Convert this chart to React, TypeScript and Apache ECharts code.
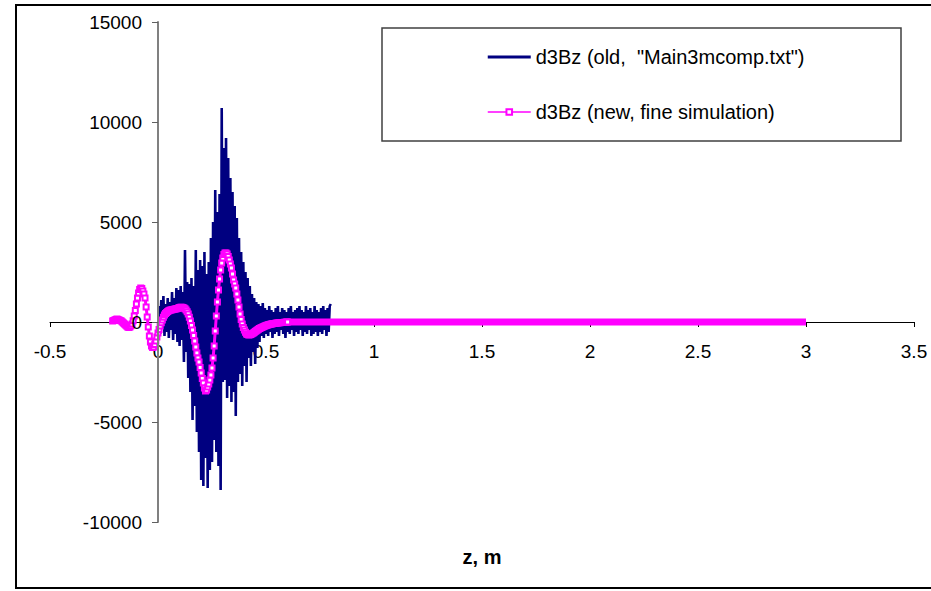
import React, { useEffect, useRef } from "react";
import * as echarts from "echarts";

const xTicks = [-0.5, 3.5, 0.5]; // min, max, interval
const yTicks = [-10000, 15000, 5000];

const navyName = 'd3Bz (old,  "Main3mcomp.txt")';
const magName = "d3Bz (new, fine simulation)";

const navyZ = [
  0, 0.005, 0.01, 0.015, 0.02, 0.025, 0.03, 0.035, 0.04, 0.045,
  0.05, 0.055, 0.06, 0.065, 0.07, 0.075, 0.08, 0.085, 0.09, 0.095,
  0.1, 0.105, 0.11, 0.115, 0.12, 0.125, 0.13, 0.135, 0.14, 0.145,
  0.15, 0.155, 0.16, 0.165, 0.17, 0.175, 0.18, 0.185, 0.19, 0.195,
  0.2, 0.205, 0.21, 0.215, 0.22, 0.225, 0.23, 0.235, 0.24, 0.245,
  0.25, 0.255, 0.26, 0.265, 0.27, 0.275, 0.28, 0.285, 0.29, 0.295,
  0.3, 0.305, 0.31, 0.315, 0.32, 0.325, 0.33, 0.335, 0.34, 0.345,
  0.35, 0.355, 0.36, 0.365, 0.37, 0.375, 0.38, 0.385, 0.39, 0.395,
  0.4, 0.405, 0.41, 0.415, 0.42, 0.425, 0.43, 0.435, 0.44, 0.445,
  0.45, 0.455, 0.46, 0.465, 0.47, 0.475, 0.48, 0.485, 0.49, 0.495,
  0.5, 0.505, 0.51, 0.515, 0.52, 0.525, 0.53, 0.535, 0.54, 0.545,
  0.55, 0.555, 0.56, 0.565, 0.57, 0.575, 0.58, 0.585, 0.59, 0.595,
  0.6, 0.605, 0.61, 0.615, 0.62, 0.625, 0.63, 0.635, 0.64, 0.645,
  0.65, 0.655, 0.66, 0.665, 0.67, 0.675, 0.68, 0.685, 0.69, 0.695,
  0.7, 0.705, 0.71, 0.715, 0.72, 0.725, 0.73, 0.735, 0.74, 0.745,
  0.75, 0.755, 0.76, 0.765, 0.77, 0.775, 0.78, 0.785, 0.79, 0.795,
  0.8,
];
const navyV = [
  -500, 800, -600, 1100, -300, 1300, -700, 900, -500, 1200,
  -800, 1000, -400, 1500, -900, 1200, -600, 1700, -1000, 1600,
  -1200, 1800, -900, 1500, -2000, 3600, -1500, 2000, -2800, 1900,
  -3500, 2200, -4900, 1800, -4200, 3600, -5500, 2600, -6500, 3100,
  -7900, 2800, -8200, 3500, -6800, 2400, -8300, 3000, -7400, 4200,
  -7000, 5000, -5900, 6600, -6500, 5500, -7200, 6400, -8400, 10700,
  -3000, 8700, -2900, 9200, -3800, 8200, -3200, 7200, -4000, 6500,
  -3500, 5800, -4700, 5200, -3000, 4200, -2600, 3500, -3200, 3000,
  -2200, 2500, -3000, 2200, -1800, 1800, -2200, 1400, -1500, 1200,
  -2100, 1000, -1300, 900, -1000, 800, -700, 950, -800, 700,
  -600, 600, -700, 800, -500, 600, -800, 500, -600, 700,
  -500, 800, -700, 500, -400, 700, -600, 600, -800, 500,
  -500, 700, -600, 800, -400, 500, -700, 600, -500, 700,
  -600, 800, -400, 600, -700, 500, -500, 800, -600, 600,
  -400, 700, -700, 500, -600, 800, -500, 600, -700, 500,
  -500, 700, -600, 800, -400, 600, -700, 700, -500, 800,
  900,
];

const magZ = [
  -0.21, -0.205, -0.2, -0.195, -0.19, -0.185, -0.18, -0.175, -0.17, -0.165,
  -0.16, -0.155, -0.15, -0.145, -0.14, -0.135, -0.13, -0.125, -0.12, -0.115,
  -0.11, -0.105, -0.1, -0.095, -0.09, -0.085, -0.08, -0.075, -0.07, -0.065,
  -0.06, -0.055, -0.05, -0.045, -0.04, -0.035, -0.03, -0.025, -0.02, -0.015,
  -0.01, -0.005, 0, 0.005, 0.01, 0.015, 0.02, 0.025, 0.03, 0.035,
  0.04, 0.045, 0.05, 0.055, 0.06, 0.065, 0.07, 0.075, 0.08, 0.085,
  0.09, 0.095, 0.1, 0.105, 0.11, 0.115, 0.12, 0.125, 0.13, 0.135,
  0.14, 0.145, 0.15, 0.155, 0.16, 0.165, 0.17, 0.175, 0.18, 0.185,
  0.19, 0.195, 0.2, 0.205, 0.21, 0.215, 0.22, 0.225, 0.23, 0.235,
  0.24, 0.245, 0.25, 0.255, 0.26, 0.265, 0.27, 0.275, 0.28, 0.285,
  0.29, 0.295, 0.3, 0.305, 0.31, 0.315, 0.32, 0.325, 0.33, 0.335,
  0.34, 0.345, 0.35, 0.355, 0.36, 0.365, 0.37, 0.375, 0.38, 0.385,
  0.39, 0.395, 0.4, 0.405, 0.41, 0.415, 0.42, 0.425, 0.43, 0.435,
  0.44, 0.445, 0.45, 0.455, 0.46, 0.465, 0.47, 0.475, 0.48, 0.485,
  0.49, 0.495, 0.5, 0.505, 0.51, 0.515, 0.52, 0.525, 0.53, 0.535,
  0.54, 0.545, 0.55, 0.555, 0.56, 0.565, 0.57, 0.575, 0.58, 0.585,
  0.59, 0.595, 0.6,
];
const magV = [
  50, 80, 100, 130, 150, 130, 100, 80, 50, 0,
  -50, -100, -150, -200, -250, -270, -250, -190, -100, 60,
  300, 580, 900, 1200, 1450, 1620, 1700, 1670, 1550, 1400,
  1200, 750, 250, -250, -700, -1000, -1200, -1270, -1250, -1120,
  -950, -750, -550, -370, -200, -40, 100, 240, 350, 420,
  480, 525, 560, 585, 600, 610, 620, 635, 650, 665,
  680, 700, 720, 735, 740, 730, 700, 660, 600, 510,
  400, 240, 50, -170, -400, -670, -950, -1250, -1550, -1800,
  -2000, -2280, -2550, -2820, -3050, -3300, -3450, -3400, -3250, -3100,
  -2900, -2650, -2300, -1800, -1200, -450, 300, 1000, 1600, 2150,
  2600, 2950, 3200, 3370, 3450, 3450, 3400, 3280, 3100, 2900,
  2700, 2400, 2100, 1900, 1700, 1400, 1100, 750, 400, 130,
  -100, -270, -400, -510, -600, -630, -650, -640, -620, -590,
  -560, -520, -480, -440, -400, -365, -330, -300, -270, -245,
  -220, -200, -180, -160, -140, -125, -110, -100, -90, -80,
  -70, -60, -50, -45, -40, -35, -30, -25, -20, -15,
  -10, -5, 0,
];
const tailZ = [0.6, 1.0, 1.5, 2.0, 2.5, 3.0];
const tailV = [0, 0, 0, 0, 0, 0];

const FONT = '"Liberation Sans", Arial, sans-serif';
const NAVY = "#000080";
const MAGENTA = "#FF00FF";

const pairs = (xs: number[], ys: number[]) => xs.map((x, i) => [x, ys[i]]);

export default function App() {
  const ref = useRef<HTMLDivElement>(null);
  useEffect(() => {
    if (!ref.current) return;
    const chart = echarts.init(ref.current, null, { renderer: "svg" });
    chart.setOption({
      animation: false,
      backgroundColor: "#fff",
      textStyle: { fontFamily: FONT },
      grid: { left: 50, right: 17, top: 22, bottom: 69, containLabel: false, outerBoundsMode: "none" },
      xAxis: {
        type: "value",
        position: "bottom",
        offset: -200,
        min: xTicks[0],
        max: xTicks[1],
        interval: xTicks[2],
        axisLine: { show: true, onZero: false, lineStyle: { color: "#000", width: 1 } },
        axisTick: { show: true, length: 5, lineStyle: { color: "#000" } },
        axisLabel: { margin: 20, fontSize: 19, color: "#000", fontFamily: FONT, formatter: (v: number) => String(v) },
        splitLine: { show: false },
      },
      yAxis: {
        type: "value",
        position: "left",
        offset: -108,
        z: 4,
        min: yTicks[0],
        max: yTicks[1],
        interval: yTicks[2],
        axisLine: { show: true, onZero: false, lineStyle: { color: "#808080", width: 2 } },
        axisTick: { show: true, length: 6, lineStyle: { color: "#606060" } },
        axisLabel: { margin: 16, fontSize: 19, color: "#000", fontFamily: FONT, formatter: (v: number) => String(v) },
        splitLine: { show: false },
      },
      legend: {
        orient: "vertical",
        left: 482,
        top: 42,
        itemWidth: 43,
        itemHeight: 7,
        itemGap: 35,
        textStyle: { fontSize: 20, color: "#000", fontFamily: FONT },
        data: [
          { name: navyName, icon: "path://M0,0H43V3H0Z", itemStyle: { color: NAVY } },
          { name: magName, lineStyle: { width: 1.5 }, itemStyle: { borderWidth: 1.5 } },
        ],
      },
      graphic: [
        {
          type: "rect",
          shape: { x: 16, y: 5, width: 940, height: 583 },
          style: { fill: "none", stroke: "#000", lineWidth: 2 },
          silent: true,
        },
        {
          type: "rect",
          shape: { x: 382, y: 28, width: 519, height: 113 },
          style: { fill: "none", stroke: "#404040", lineWidth: 1.5 },
          silent: true,
        },
        {
          type: "text",
          x: 482,
          y: 557,
          style: {
            text: "z, m",
            fontSize: 20,
            fontWeight: "bold",
            fontFamily: FONT,
            fill: "#000",
            align: "center",
            verticalAlign: "middle",
          },
          silent: true,
        },
      ],
      series: [
        {
          name: navyName,
          type: "line",
          data: pairs(navyZ, navyV),
          symbol: "none",
          lineStyle: { color: NAVY, width: 2.6 },
          itemStyle: { color: NAVY },
          z: 2,
        },
        {
          name: magName,
          type: "line",
          data: pairs(magZ, magV),
          symbol: "emptyRect",
          symbolSize: 5,
          showAllSymbol: true,
          lineStyle: { color: MAGENTA, width: 3 },
          itemStyle: { color: MAGENTA, borderColor: MAGENTA, borderWidth: 2 },
          z: 3,
        },
        {
          name: magName,
          type: "line",
          data: pairs(tailZ, tailV),
          symbol: "none",
          lineStyle: { color: MAGENTA, width: 7 },
          itemStyle: { color: MAGENTA },
          z: 3,
        },
      ],
    });
    return () => chart.dispose();
  }, []);
  return (
    <div
      ref={ref}
      style={{ position: "absolute", left: 0, top: 0, width: 931, height: 591 }}
    />
  );
}
